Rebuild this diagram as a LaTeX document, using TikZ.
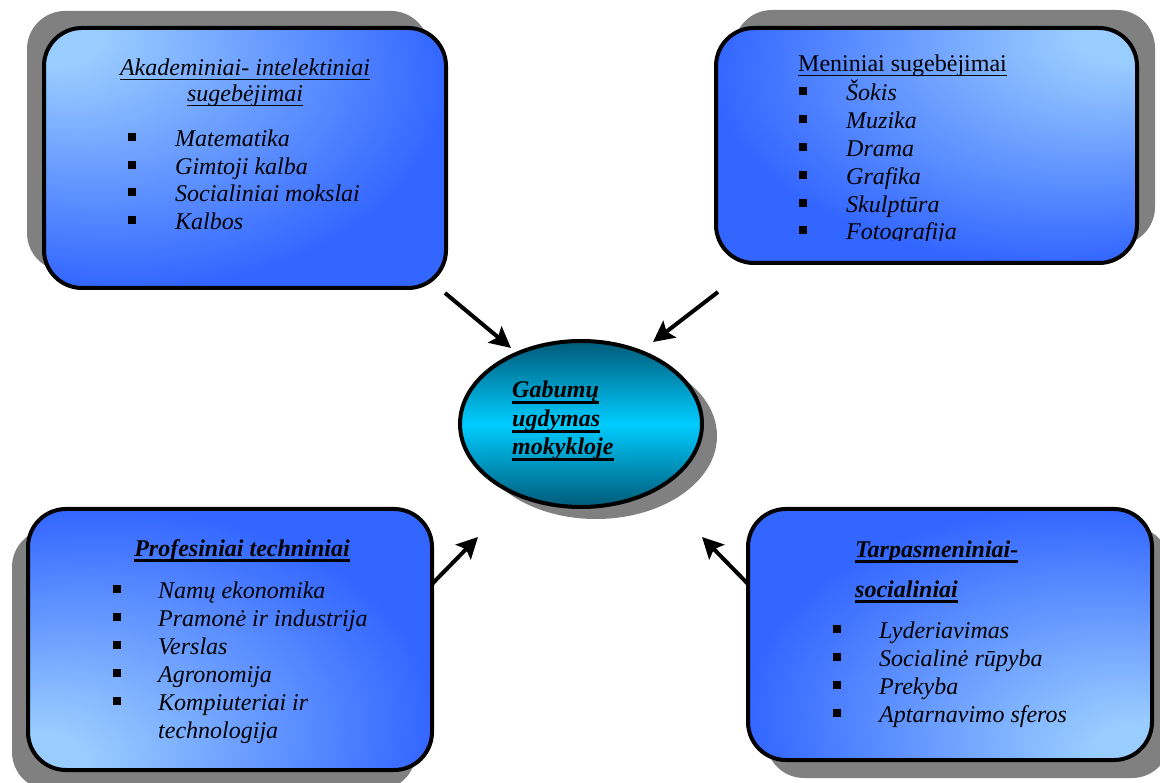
\documentclass[tikz,border=0pt]{standalone}
\usepackage{fontspec}
\setmainfont[Ligatures=NoCommon]{Liberation Serif}
\usetikzlibrary{shapes.geometric,shadows,arrows.meta}
\definecolor{lightb}{RGB}{153,204,255}
\definecolor{darkb}{RGB}{51,102,255}
\definecolor{shadowgray}{RGB}{128,128,128}
\definecolor{tealdark}{RGB}{0,90,120}
\definecolor{cyanb}{RGB}{0,204,255}
\pgfdeclareradialshading{cornNW}{\pgfpoint{-25bp}{25bp}}{color(0bp)=(lightb);color(6bp)=(lightb);color(40bp)=(darkb);color(100bp)=(darkb)}
\pgfdeclareradialshading{cornNE}{\pgfpoint{25bp}{25bp}}{color(0bp)=(lightb);color(6bp)=(lightb);color(40bp)=(darkb);color(100bp)=(darkb)}
\pgfdeclareradialshading{cornSW}{\pgfpoint{-25bp}{-25bp}}{color(0bp)=(lightb);color(6bp)=(lightb);color(40bp)=(darkb);color(100bp)=(darkb)}
\pgfdeclareradialshading{cornSE}{\pgfpoint{25bp}{-25bp}}{color(0bp)=(lightb);color(6bp)=(lightb);color(40bp)=(darkb);color(100bp)=(darkb)}
\newcommand\ulthin[1]{\setbox0\hbox{#1}\rlap{\rule[-4.5pt]{\wd0}{1.5pt}}\box0}
\newcommand\ulthick[1]{\setbox0\hbox{#1}\rlap{\rule[-6pt]{\wd0}{3pt}}\box0}
\newcommand\bulitem[2]{\makebox[#1][l]{\rule[5.5pt]{8pt}{8pt}}#2}
\begin{document}
\begin{tikzpicture}[x=1pt,y=-1pt,
  panel/.style={draw=black, line width=4pt, rectangle, rounded corners=38pt, inner sep=0pt},
  txt/.style={inner sep=0pt, anchor=base west, font=\fontsize{24}{28}\selectfont\itshape},
  ctxt/.style={txt, anchor=base},
  btxt/.style={txt, font=\fontsize{24}{28}\selectfont\bfseries\itshape},
  rtxt/.style={txt, font=\fontsize{24}{28}\selectfont},
  arr/.style={line width=4pt, -{Stealth[length=21pt,width=21pt,inset=4pt]}}]
\useasboundingbox (0,0) rectangle (1160,783);

% panels
\node[panel, shading=cornNW, minimum width=402pt, minimum height=260pt,
  drop shadow={shadow xshift=-17pt, shadow yshift=17pt, fill=shadowgray, opacity=1}] (box1) at (245,158) {};
\node[panel, shading=cornNE, minimum width=421pt, minimum height=235pt,
  drop shadow={shadow xshift=18pt, shadow yshift=18pt, fill=shadowgray, opacity=1}] (box2) at (926.5,145.5) {};
\node[panel, shading=cornSW, minimum width=404pt, minimum height=261pt,
  drop shadow={shadow xshift=-16pt, shadow yshift=-20pt, fill=shadowgray, opacity=1}] (box3) at (230,639.5) {};
\node[panel, shading=cornSE, minimum width=404pt, minimum height=251pt,
  drop shadow={shadow xshift=18pt, shadow yshift=-18pt, fill=shadowgray, opacity=1}] (box4) at (950,634.5) {};

% central ellipse
\node[ellipse, draw=black, line width=4pt, minimum width=242pt, minimum height=166pt, inner sep=0pt,
  top color=tealdark, bottom color=tealdark, middle color=cyanb,
  drop shadow={shadow xshift=15pt, shadow yshift=-12pt, fill=shadowgray, opacity=1}] (center) at (581,424) {};
\node[btxt] (c1) at (512,398) {\ulthick{Gabumų}};
\node[btxt] (c2) at (512,427) {\ulthick{ugdymas}};
\node[btxt] (c3) at (512,455) {\ulthick{mokykloje}};

% box 1 text
\node[ctxt] (t1a) at (245,76) {\ulthin{Akademiniai- intelektiniai}};
\node[ctxt] (t1b) at (245,102) {\ulthin{sugebėjimai}};
\foreach \t [count=\i] in {Matematika, Gimtoji kalba, Socialiniai mokslai, Kalbos}
  \node[txt] (ak\i) at (128,{119.5+27.5*\i}) {\bulitem{47pt}{\t}};

% box 2 text
\node[rtxt] (t2) at (798,72) {\ulthin{Meniniai sugebėjimai}};
\begin{scope}
\clip (700,80) rectangle (1130,241);
\foreach \t [count=\i] in {Šokis, Muzika, Drama, Grafika, Skulptūra, Fotografija}
  \node[txt] (me\i) at (799,{73.2+27.8*\i}) {\bulitem{47pt}{\t}};
\end{scope}

% box 3 text
\node[btxt, anchor=base] (t3) at (242,556) {\ulthick{Profesiniai techniniai}};
\foreach \t [count=\i] in {Namų ekonomika, Pramonė ir industrija, Verslas, Agronomija, Kompiuteriai ir}
  \node[txt] (pr\i) at (113,{570+28*\i}) {\bulitem{45pt}{\t}};
\node[txt] (pr6) at (158,738) {technologija};

% box 4 text
\node[btxt] (t4a) at (855,557) {\ulthick{Tarpasmeniniai-}};
\node[btxt] (t4b) at (855,597) {\ulthick{socialiniai}};
\foreach \t [count=\i] in {Lyderiavimas, Socialinė rūpyba, Prekyba, Aptarnavimo sferos}
  \node[txt] (ta\i) at (833,{609.7+28.3*\i}) {\bulitem{46pt}{\t}};

% arrows
\coordinate (s1) at (445,293); \coordinate (e1) at (511,348);
\coordinate (s2) at (718,292); \coordinate (e2) at (653,342);
\coordinate (s3) at (432,584); \coordinate (e3) at (478,537);
\coordinate (s4) at (748,584); \coordinate (e4) at (702,537);
\draw[arr] (s1) -- (e1);
\draw[arr] (s2) -- (e2);
\draw[arr] (s3) -- (e3);
\draw[arr] (s4) -- (e4);
\end{tikzpicture}
\end{document}
